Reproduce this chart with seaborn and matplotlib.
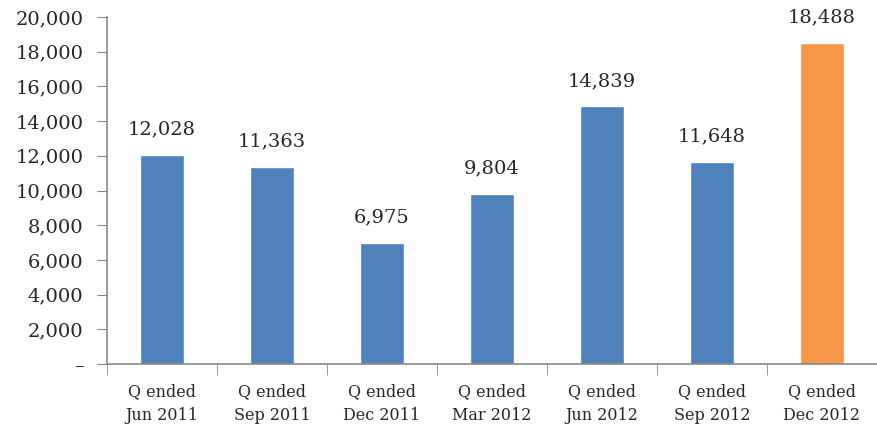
import pandas as pd
import matplotlib.pyplot as plt
import seaborn as sns
import numpy as np

quarters = ['Q ended\nJun 2011', 'Q ended\nSep 2011', 'Q ended\nDec 2011', 'Q ended\nMar 2012',
            'Q ended\nJun 2012', 'Q ended\nSep 2012', 'Q ended\nDec 2012']
values = [12028, 11363, 6975, 9804, 14839, 11648, 18488]
bar_colors = ['#4F81BD'] * 6 + ['#F79646']
yticks = [0, 2000, 4000, 6000, 8000, 10000, 12000, 14000, 16000, 18000, 20000]

sns.set_style('white')
plt.rcParams['font.family'] = ['DejaVu Serif']

df = pd.DataFrame({'quarter': quarters, 'value': values})

fig = plt.figure(figsize=(8.77, 4.33), dpi=100)
ax = fig.add_axes([0.122, 0.159, 0.878, 0.802])
sns.barplot(data=df, x='quarter', y='value', hue='quarter', palette=bar_colors,
            width=0.4, legend=False, ax=ax, saturation=1)

ax.set_xlim(-0.5, 6.5)
ax.set_ylim(0, 20000)
ax.set_yticks(yticks)
ax.set_yticklabels(['–' if v == 0 else f'{v:,}' for v in yticks], fontsize=14)
ax.tick_params(axis='y', length=7, color='#888888', direction='out', left=True, pad=10)
ax.tick_params(axis='x', which='major', length=0, labelsize=11.5, pad=14)
for lbl in ax.get_xticklabels():
    lbl.set_linespacing(1.5)
ax.set_xticks(np.arange(-0.5, 7, 1), minor=True)
ax.tick_params(axis='x', which='minor', length=8, color='#888888', bottom=True, direction='out')

for s in ['top', 'right']:
    ax.spines[s].set_visible(False)
for s in ['left', 'bottom']:
    ax.spines[s].set_color('#888888')
    ax.spines[s].set_linewidth(1.2)

for i, v in enumerate(values):
    ax.text(i, v + 950, f'{v:,}', ha='center', va='bottom', fontsize=14)

ax.set_xlabel('')
ax.set_ylabel('')
fig.savefig('out.png', dpi=100)
